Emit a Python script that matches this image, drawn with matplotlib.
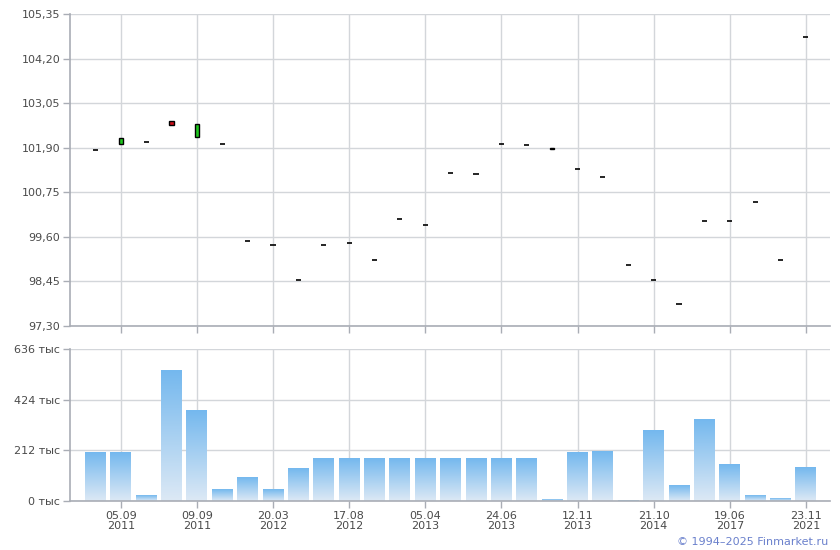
import numpy as np
import matplotlib
matplotlib.use("Agg")
import matplotlib.pyplot as plt
from matplotlib.colors import LinearSegmentedColormap

# ---- data ----
opens = [101.83, 101.99, 102.04, 102.59, 102.18, 101.99, 99.49, 99.38, 98.48, 99.38,
         99.43, 98.99, 100.05, 99.90, 101.24, 101.21, 101.99, 101.96, 101.90, 101.35,
         101.14, 98.87, 98.48, 97.86, 100.00, 100.00, 100.49, 98.99, 104.76]
closes = [101.83, 102.14, 102.04, 102.49, 102.50, 101.99, 99.49, 99.38, 98.48, 99.38,
          99.43, 98.99, 100.05, 99.90, 101.24, 101.21, 101.99, 101.96, 101.87, 101.35,
          101.14, 98.87, 98.48, 97.86, 100.00, 100.00, 100.49, 98.99, 104.76]
volumes = [201, 201, 25, 544, 377, 50, 100, 50, 138, 176,
           176, 176, 176, 176, 176, 176, 176, 176, 8, 201,
           209, 4, 297, 63, 343, 151, 21, 12, 142]  # thousands
tick_idx = [1, 4, 7, 10, 13, 16, 19, 22, 25, 28]
tick_labels = ["05.09\n2011", "09.09\n2011", "20.03\n2012", "17.08\n2012", "05.04\n2013",
               "24.06\n2013", "12.11\n2013", "21.10\n2014", "19.06\n2017", "23.11\n2021"]
price_ticks = [97.30, 98.45, 99.60, 100.75, 101.90, 103.05, 104.20, 105.35]
vol_ticks = [0, 212, 424, 636]

W, H = 840, 550
fig = plt.figure(figsize=(W / 100, H / 100), dpi=100)
plt.rcParams['font.family'] = ['DejaVu Sans']

def fr(l, t, r, b):
    return [l / W, 1 - b / H, (r - l) / W, (b - t) / H]

grid_c = "#d3d6da"
spine_c = "#a9adb5"
txt_c = "#4a4a4a"
n = len(opens)
x = np.arange(n)
xlim = (-1.0, 28.95)

ax1 = fig.add_axes(fr(70, 14, 830, 326))
ax2 = fig.add_axes(fr(70, 349, 830, 501))

for ax in (ax1, ax2):
    ax.set_xlim(*xlim)
    for s in ("top", "right"):
        ax.spines[s].set_visible(False)
    ax.spines["left"].set_color(spine_c)
    ax.spines["bottom"].set_color(spine_c)
    ax.spines["left"].set_linewidth(1.2)
    ax.spines["bottom"].set_linewidth(1.2)
    ax.set_xticks(tick_idx)
    ax.grid(True, color=grid_c, linewidth=1.0)
    ax.set_axisbelow(True)
    ax.tick_params(axis="both", colors=spine_c, labelcolor=txt_c, labelsize=8,
                   length=5, width=1)
    ax.tick_params(axis="x", pad=2)
    ax.tick_params(axis="y", pad=2)

# ---- candles ----
cw = 0.16
ax1.set_ylim(price_ticks[0], price_ticks[-1])
ax1.set_yticks(price_ticks)
ax1.set_yticklabels([f"{v:.2f}".replace(".", ",") for v in price_ticks])
ax1.set_xticklabels([])
for i in range(n):
    o, c = opens[i], closes[i]
    if abs(c - o) < 0.005:
        ax1.hlines(o, i - cw / 2 - 0.02, i + cw / 2 + 0.02, color="black", linewidth=1.2, zorder=3)
    else:
        fc = "#1ec81e" if c > o else "#d0101a"
        if abs(c - o) < 0.05:
            fc = "black"
        ax1.bar(i, abs(c - o), bottom=min(o, c), width=cw, color=fc,
                edgecolor="black", linewidth=1.0, zorder=3)

# ---- volume bars with gradient ----
ax2.set_ylim(0, 636)
ax2.set_yticks(vol_ticks)
ax2.set_yticklabels([f"{v} тыс" for v in vol_ticks])
ax2.set_xticklabels(tick_labels, linespacing=1.0)
cmap = LinearSegmentedColormap.from_list("g", ["#dde9f5", "#74b8ee"])
grad = np.linspace(0, 1, 256).reshape(-1, 1)
bw = 0.82
ax2.bar(x, volumes, width=bw, color="#a6cdf1", zorder=2, linewidth=0)
for i in range(n):
    v = volumes[i]
    ax2.imshow(grad, extent=(i - bw / 2, i + bw / 2, 0, v), origin="lower",
               cmap=cmap, aspect="auto", zorder=2.5, interpolation="bilinear")
ax2.set_xlim(*xlim)
ax2.set_ylim(0, 636)

fig.text(828 / W, 1 - 542 / H, "© 1994–2025 Finmarket.ru", ha="right", va="center",
         fontsize=8, color="#6a80cc")

fig.savefig("out.png", dpi=100)
